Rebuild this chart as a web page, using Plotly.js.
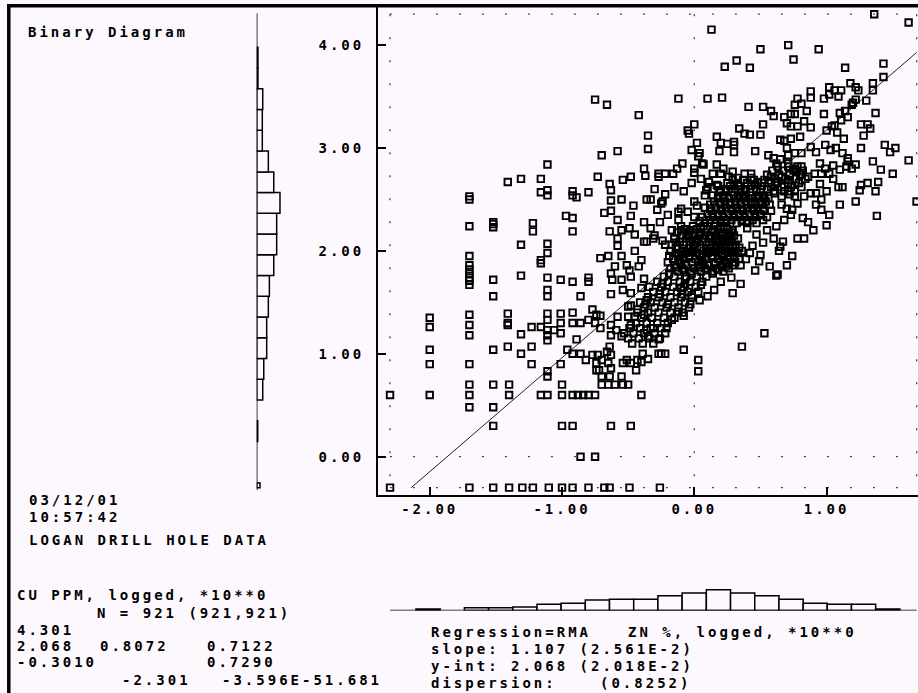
<!DOCTYPE html>
<html><head><meta charset="utf-8">
<script src="https://cdn.plot.ly/plotly-3.0.1.min.js"></script>
<style>
html,body{margin:0;padding:0;background:#fdf8fd;}
#chart{width:918px;height:693px;}
text{letter-spacing:3px;}
</style></head><body><div id="chart"></div>
<script>
// ---------- DATA ----------
// log10 ZN % (x) and log10 CU ppm (y) : scattered points
const outerPoints = [
[-0.75,3.47],[-0.66,3.42],[-0.42,3.32],[-0.35,3.12],[-0.35,2.99],[-0.70,2.93],[-0.58,2.97],[-1.11,2.84],[-0.38,2.80],[-0.37,2.73],
[-0.73,2.72],[-1.41,2.67],[-1.31,2.70],[-1.16,2.70],[-0.48,2.72],[-0.54,2.69],[-0.64,2.65],[-0.63,2.59],[-1.70,2.53],[-1.70,2.50],
[-1.16,2.57],[-1.11,2.59],[-1.11,2.54],[-0.92,2.58],[-0.92,2.54],[-0.89,2.52],[-0.80,2.57],[-0.63,2.49],[-0.55,2.50],[-0.46,2.44],
[-0.36,2.50],[-0.68,2.37],[-0.63,2.39],[-0.97,2.34],[-0.92,2.32],[-0.58,2.30],[-0.48,2.34],[-0.38,2.28],[-1.70,2.24],[-1.52,2.28],
[-1.52,2.26],[-1.52,2.23],[-1.22,2.27],[-1.22,2.19],[-0.92,2.19],[-0.64,2.19],[-0.55,2.20],[-0.49,2.22],[-0.45,2.16],[-0.58,2.12],
[-0.58,2.05],[-0.38,2.09],[-0.36,2.09],[-1.31,2.06],[-1.11,2.07],
[1.36,4.30],[1.62,4.22],[0.13,4.15],[0.71,4.00],[0.50,3.96],[0.94,3.96],[0.75,3.86],[0.32,3.85],[0.23,3.79],[0.42,3.78],
[1.14,3.78],[1.43,3.82],[1.43,3.69],[-0.12,3.48],[0.10,3.48],[0.21,3.49],[0.88,3.55],[0.88,3.49],[1.02,3.59],[1.06,3.56],
[1.11,3.56],[1.09,3.50],[0.98,3.48],[1.02,3.52],[1.18,3.63],[1.22,3.59],[1.24,3.56],[1.35,3.63],[1.35,3.56],[1.19,3.42],
[1.20,3.44],[1.22,3.47],[1.30,3.46],[0.78,3.48],[0.76,3.42],[0.81,3.43],[0.85,3.36],[0.41,3.40],[0.52,3.40],[0.58,3.36],
[0.60,3.31],[0.68,3.30],[0.73,3.33],[0.76,3.33],[0.98,3.33],[1.10,3.34],[1.14,3.36],[1.16,3.30],[1.11,3.27],[1.06,3.22],
[1.37,3.34],[0.00,3.23],[-0.05,3.17],[-0.04,3.14],[0.34,3.19],[0.38,3.14],[0.42,3.13],[0.50,3.13],[0.52,3.23],[0.70,3.24],
[0.73,3.21],[0.78,3.21],[0.83,3.26],[0.88,3.20],[1.00,3.17],[1.04,3.21],[1.08,3.15],[1.13,3.09],[1.26,3.23],[1.31,3.23],
[1.33,3.19],[1.28,3.12],[0.02,3.05],[0.17,3.11],[0.20,3.05],[0.25,3.04],[0.30,3.06],[0.30,3.03],[0.19,2.97],[0.30,2.96],
[0.46,2.97],[0.65,3.08],[0.68,3.07],[0.73,3.09],[0.80,3.11],[0.70,3.00],[0.76,2.95],[0.81,2.95],[0.88,3.01],[0.92,2.96],
[0.99,3.03],[1.03,2.98],[1.07,3.00],[1.12,2.95],[1.16,2.90],[1.16,2.87],[1.26,3.00],[1.44,3.03],[1.52,3.00],[1.48,2.96],
[1.62,2.88],[-0.02,2.98],[0.04,2.95],[0.03,2.92],[0.06,2.85],[0.56,2.93],[0.60,2.90],[0.62,2.85],[0.65,2.89],[0.71,2.93],
[0.71,2.85],[0.75,2.80],[0.81,2.82],[0.77,2.77],[0.95,2.85],[0.99,2.80],[1.05,2.83],[0.96,2.75],[1.02,2.75],[1.10,2.79],
[1.15,2.82],[1.19,2.80],[1.22,2.84],[1.35,2.87],[1.41,2.79],[1.50,2.75],[1.39,2.67],[-0.09,2.85],[-0.13,2.80],[-0.16,2.75],
[-0.22,2.75],[-0.27,2.75],[-0.27,2.72],[0.00,2.80],[0.00,2.76],[0.07,2.84],[0.17,2.84],[0.20,2.75],[0.26,2.72],[0.29,2.77],
[0.33,2.71],[0.38,2.75],[0.43,2.75],[0.43,2.71],[0.48,2.67],[0.53,2.66],[0.58,2.72],[0.62,2.67],[0.66,2.72],[0.71,2.69],
[0.76,2.79],[0.81,2.74],[0.86,2.72],[0.91,2.75],[1.26,2.64],[1.31,2.66],[1.25,2.59],[1.09,2.62],[1.37,2.58],[1.22,2.48],
[1.68,2.48],[1.38,2.34],[0.11,2.67],[0.09,2.59],[0.08,2.54],[0.17,2.64],[0.19,2.59],[0.00,2.48],[-0.10,2.41],[-0.12,2.38],
[-0.24,2.48],[-0.25,2.46],[-0.33,2.50],[-0.33,2.22],[-0.31,2.12],[-0.17,2.20],[-0.10,2.20],[-0.05,2.16],[-0.15,2.12],[-0.22,2.06],
[0.70,2.41],[0.73,2.35],[0.78,2.46],[0.82,2.32],[0.86,2.28],[0.90,2.20],[0.92,2.56],[0.96,2.50],[0.96,2.40],[1.02,2.35],
[1.00,2.25],[0.78,2.12],[0.83,2.12],[0.67,2.09],[0.65,2.04],[0.61,2.56],[0.66,2.53],[0.71,2.58],[0.76,2.53],[0.83,2.53],
[0.88,2.56],
[-1.70,1.95],[-1.70,1.86],[-1.70,1.82],[-1.70,1.78],[-1.70,1.74],[-1.70,1.71],[-1.70,1.67],[-1.16,1.91],[-1.16,1.88],[-1.11,1.98],
[-0.71,1.93],[-0.65,1.95],[-0.51,1.86],[-0.49,1.81],[-0.40,1.91],[-1.52,1.72],[-1.31,1.76],[-1.11,1.74],[-1.01,1.72],[-0.92,1.70],
[-0.80,1.74],[-0.80,1.70],[-0.63,1.78],[-0.62,1.72],[-0.55,1.72],[-0.63,1.58],[-0.54,1.62],[-0.48,1.59],[-0.40,1.64],[-0.38,1.73],
[-1.52,1.56],[-1.11,1.62],[-1.11,1.56],[-0.86,1.56],[-2.00,1.35],[-2.00,1.26],[-1.70,1.38],[-1.70,1.28],[-1.70,1.18],[-1.41,1.39],
[-1.41,1.30],[-1.41,1.28],[-1.31,1.19],[-1.23,1.26],[-1.16,1.26],[-1.11,1.39],[-1.11,1.33],[-1.11,1.23],[-1.11,1.18],[-1.11,1.13],
[-1.06,1.23],[-1.01,1.39],[-1.01,1.30],[-1.01,1.20],[-0.92,1.40],[-0.92,1.30],[-0.86,1.30],[-0.80,1.33],[-0.77,1.43],[-0.74,1.38],
[-0.71,1.37],[-0.75,1.30],[-0.71,1.25],[-0.89,1.14],[-0.63,1.28],[-0.58,1.36],[-0.63,1.18],[-0.59,1.23],[-0.50,1.46],[-0.48,1.47],
[-0.43,1.43],[-0.38,1.38],[-0.45,1.36],[-0.50,1.36],[-0.48,1.28],[-0.41,1.25],[-0.36,1.23],[-0.53,1.20],[-0.55,1.17],[-0.36,1.52],
[-1.52,1.04],[-1.41,1.07],[-1.31,1.00],[-1.23,1.07],[-2.00,1.04],[-2.00,0.90],[-1.70,0.90],[-1.23,0.90],[-1.01,0.90],[-1.11,0.83],
[-1.11,0.78],[-0.96,1.04],[-0.92,1.00],[-0.86,1.00],[-0.82,0.94],[-0.77,0.99],[-0.73,0.99],[-0.74,0.91],[-0.70,0.94],[-0.66,1.02],
[-0.64,1.07],[-0.63,0.99],[-0.65,0.91],[-0.63,0.86],[-0.72,0.84],[-0.74,0.84],[-0.70,0.78],[-0.64,0.78],[-0.55,0.78],[-0.54,0.91],
[-0.51,0.94],[-0.48,0.91],[-0.43,0.94],[-0.44,0.84],[-0.39,1.00],[-0.40,0.92],[-0.70,0.70],[-0.65,0.70],[-0.60,0.70],[-0.54,0.70],
[-0.50,0.70],[-2.30,0.60],[-2.00,0.60],[-1.70,0.70],[-1.70,0.60],[-1.70,0.48],[-1.52,0.70],[-1.52,0.48],[-1.52,0.30],[-1.40,0.70],
[-1.40,0.60],[-1.16,0.60],[-1.11,0.60],[-1.00,0.70],[-1.00,0.60],[-0.92,0.60],[-0.88,0.60],[-0.84,0.60],[-0.80,0.60],[-0.75,0.60],
[-0.40,0.60],[-1.00,0.30],[-0.92,0.30],[-0.63,0.30],[-0.48,0.30],[-0.86,0.00],[-0.75,0.00],
[-2.30,-0.301],[-1.70,-0.301],[-1.52,-0.301],[-1.40,-0.301],[-1.30,-0.301],[-1.22,-0.301],[-1.10,-0.301],[-1.00,-0.301],
[-0.92,-0.301],[-0.80,-0.301],[-0.68,-0.301],[-0.64,-0.301],[-0.49,-0.301],[-0.26,-0.301],
[0.29,1.59],[0.53,1.20],[0.36,1.07],[0.03,0.94],[0.03,0.83],[-0.08,1.04],[-0.27,1.00],[-0.25,1.00],[-0.22,1.00],[-0.35,0.95],
[-0.31,1.25],[-0.27,1.14],[-0.21,1.25],[-0.17,1.33],[-0.08,1.37],[-0.12,1.41],[-0.35,1.17],[0.62,1.76],[0.63,1.77],[0.64,2.00],
[0.70,1.86],[0.74,1.95],[0.57,1.85],[0.46,1.81],[0.49,1.90],[0.39,1.92],[0.24,1.85],[0.14,1.78],[0.04,1.52],[0.10,1.56],
[0.05,1.67],[-0.02,1.57],[-0.07,1.73],[-0.10,1.64],
[0.40,2.22],[0.47,2.16],[0.55,2.20],[0.62,2.24],[0.52,2.08],[0.44,2.05],[0.60,2.12],[0.68,2.30],[0.74,2.40],[0.66,2.45],
[0.72,2.55],[0.42,1.98],[0.50,1.96],[-0.30,2.60],[-0.22,2.55],[-0.15,2.62],[-0.08,2.58],[-0.02,2.66],[0.05,2.70],[-0.28,2.40],
[-0.20,2.35],[-0.12,2.30],[-0.05,2.38],[0.02,2.44],[0.00,2.33],[-0.26,2.28],[-0.30,2.15],[-0.24,2.10],[0.10,2.62],[0.14,2.75],
[0.22,2.80],[-0.45,2.00],[-0.42,1.85],[-0.48,1.75],[-0.55,1.95],[-0.60,1.85],[0.20,1.70],[0.28,1.74],[0.15,1.62],[0.35,1.68],
[0.95,2.65],[1.00,2.58],[1.05,2.70],[1.12,2.62],[0.92,2.45],[1.10,2.45]
];
// dense core of the cloud, by rows: [log CU, [log ZN values]]
const coreRows = [
[1.10,[-0.47,-0.39,-0.31]],[1.15,[-0.50,-0.42,-0.34,-0.26]],[1.20,[-0.46,-0.38,-0.30,-0.22]],
[1.25,[-0.49,-0.41,-0.33,-0.25]],[1.30,[-0.44,-0.36,-0.28,-0.20]],[1.35,[-0.40,-0.32,-0.23,-0.15]],
[1.40,[-0.43,-0.35,-0.27,-0.18,-0.09]],[1.45,[-0.38,-0.30,-0.21,-0.12,-0.04]],[1.50,[-0.41,-0.33,-0.24,-0.15,-0.07]],
[1.55,[-0.35,-0.27,-0.18,-0.10,-0.02]],[1.60,[-0.31,-0.22,-0.13,-0.05,0.03]],[1.65,[-0.34,-0.25,-0.16,-0.08,0.01]],
[1.70,[-0.28,-0.20,-0.11,-0.03,0.06]],[1.75,[-0.23,-0.15,-0.06,0.02,0.09]],
[1.80,[-0.12,-0.03,0.05,0.14,0.22]],[1.83,[-0.18,-0.09,0.00,0.08,0.17,0.26]],[1.86,[-0.15,-0.06,0.03,0.11,0.20,0.29,0.35]],
[1.89,[-0.20,-0.11,-0.02,0.06,0.15,0.24,0.31]],[1.92,[-0.16,-0.08,0.01,0.09,0.18,0.27,0.34]],[1.95,[-0.19,-0.12,-0.04,0.04,0.13,0.21,0.30]],
[1.98,[-0.14,-0.06,0.02,0.10,0.18,0.25,0.33]],[2.00,[-0.18,-0.09,-0.01,0.07,0.15,0.23,0.29,0.36]],[2.03,[-0.13,-0.04,0.05,0.12,0.20,0.27,0.34]],
[2.06,[-0.17,-0.08,0.00,0.09,0.17,0.24,0.31]],[2.09,[-0.11,-0.03,0.06,0.14,0.21,0.28]],[2.12,[-0.15,-0.06,0.03,0.11,0.19,0.26,0.33]],
[2.15,[-0.09,0.00,0.08,0.16,0.23,0.30]],[2.18,[-0.13,-0.04,0.05,0.13,0.21,0.28]],[2.21,[-0.07,0.02,0.10,0.18,0.25]],
[2.24,[-0.10,-0.01,0.07,0.15,0.22]],
[2.27,[0.08,0.16,0.24,0.32,0.40,0.47]],[2.30,[0.12,0.20,0.28,0.36,0.44,0.52]],[2.33,[0.06,0.14,0.22,0.30,0.38,0.46,0.55]],
[2.36,[0.10,0.18,0.26,0.34,0.42,0.50]],[2.39,[0.13,0.21,0.29,0.37,0.45,0.53,0.58]],[2.42,[0.08,0.16,0.24,0.32,0.40,0.48]],
[2.45,[0.12,0.20,0.27,0.35,0.43,0.51,0.57]],[2.48,[0.15,0.23,0.31,0.39,0.46,0.54]],[2.51,[0.18,0.26,0.33,0.41,0.49,0.56]],
[2.54,[0.14,0.22,0.30,0.37,0.44,0.52]],[2.57,[0.20,0.28,0.35,0.42,0.50]],[2.60,[0.24,0.31,0.39,0.47,0.55]],
[2.63,[0.18,0.27,0.34,0.43,0.51]],[2.66,[0.25,0.33,0.40,0.48]],[2.69,[0.29,0.37,0.45,0.53]],
[2.58,[0.60,0.68,0.76]],[2.62,[0.58,0.66,0.73,0.81]],[2.66,[0.56,0.63,0.71,0.79]],[2.70,[0.61,0.69,0.77,0.84]],
[2.74,[0.55,0.64,0.72,0.80]],[2.78,[0.59,0.67,0.75,0.82]],[2.82,[0.63,0.71,0.78]],
[1.84,[-0.14,0.04,0.21]],[1.91,[-0.12,0.05,0.22]],[1.97,[-0.10,0.06,0.21]],[2.02,[-0.08,0.09,0.24]],
[2.08,[-0.14,0.02,0.18]],[2.14,[-0.04,0.12,0.27]],[2.20,[-0.03,0.14,0.29]],[2.29,[0.04,0.24,0.40]],
[2.35,[0.14,0.30,0.46]],[2.41,[0.12,0.28,0.44]],[2.47,[0.19,0.35,0.50]],[2.53,[0.18,0.34,0.48]],
[1.48,[-0.37,-0.20,-0.03]],[1.58,[-0.26,-0.09]],[1.68,[-0.24,-0.07]],[1.78,[-0.19,-0.02]],
[1.815,[-0.08,0.10,0.18]],[1.875,[-0.10,0.07,0.25]],[1.935,[-0.04,0.14,0.30]],[1.99,[-0.02,0.14,0.29]],
[2.045,[-0.01,0.16,0.31]],[2.105,[0.02,0.17,0.25]],[2.165,[0.04,0.20,0.26]],[2.225,[0.05,0.20]],
[2.285,[0.20,0.36]],[2.345,[0.18,0.34,0.50]],[2.405,[0.20,0.36,0.52]],[2.465,[0.27,0.43]],
[2.525,[0.22,0.38,0.53]],[2.585,[0.24,0.38]],[2.645,[0.30,0.46]]
];
// left histogram (log CU) : bin edges and counts
const cuHistEdges = [-0.301,-0.255,-0.054,0.148,0.349,0.551,0.753,0.954,1.156,1.357,1.559,1.760,1.962,2.164,2.365,2.567,2.768,2.970,3.172,3.373,3.575,3.777,3.978];
const cuHistCounts = [16,0,0,5,0,29,34,48,48,56,61,82,96,96,112,82,56,27,27,29,6,6];
// bottom histogram (log ZN) : bin edges and counts
const znHistEdges = [-2.104,-1.921,-1.738,-1.555,-1.372,-1.189,-1.007,-0.824,-0.641,-0.458,-0.275,-0.092,0.091,0.274,0.457,0.640,0.823,1.005,1.188,1.371,1.554];
const znHistCounts = [8,0,14,14,18,33,38,56,60,60,78,92,109,92,78,60,38,33,33,8];
// data limits and regression
const znLimits = [-2.301, 1.681];
const cuLimits = [-0.301, 4.301];
const rmaSlope = 1.107, rmaIntercept = 2.068;
// ticks
const xTickVals = [-2,-1,0,1], xTickText = ['-2.00','-1.00','0.00','1.00'];
const yTickVals = [0,1,2,3,4], yTickText = ['0.00','1.00','2.00','3.00','4.00'];
// texts
const headerText = 'Binary Diagram';
const infoLines = ['03/12/01','10:57:42','LOGAN DRILL HOLE DATA'];
const cuLabel = 'CU PPM, logged, *10**0';
const nLabel = 'N = 921 (921,921)';
const statsCells = ['4.301','2.068','0.8072','0.7122','-0.3010','0.7290','-2.301','-3.596E-51.681'];
const regLines = ['Regression=RMA','ZN %, logged, *10**0','slope: 1.107 (2.561E-2)','y-int: 2.068 (2.018E-2)','dispersion:','(0.8252)'];

// ---------- BUILD ----------
const W = 918, H = 693;
const BG = '#fdf8fd';
const FONT = {family:'DejaVu Sans Mono, Liberation Mono, monospace', size:14, color:'#000', weight:'bold'};
const fx = p => p / W, fy = p => 1 - p / H;

const X = [], Y = [];
outerPoints.forEach(p => { X.push(p[0]); Y.push(p[1]); });
coreRows.forEach(r => r[1].forEach(x => { X.push(x); Y.push(r[0]); }));

function histBars(edges, counts) {
  const c = [], w = [], v = [];
  counts.forEach((n, i) => { if (n > 0) { c.push((edges[i] + edges[i+1]) / 2); w.push(edges[i+1] - edges[i]); v.push(n); } });
  return {c, w, v};
}
const lh = histBars(cuHistEdges, cuHistCounts);
const bh = histBars(znHistEdges, znHistCounts);

const lineX0 = (cuLimits[0] - rmaIntercept) / rmaSlope;
const traces = [
  {type:'bar', orientation:'h', xaxis:'x2', yaxis:'y', y: lh.c, x: lh.v, width: lh.w, base:0,
   marker:{color:BG, line:{color:'#000', width:1.5}}, hoverinfo:'skip'},
  {type:'bar', xaxis:'x', yaxis:'y3', x: bh.c, y: bh.v, width: bh.w, base:0,
   marker:{color:BG, line:{color:'#000', width:1.5}}, hoverinfo:'skip'},
  {type:'scatter', mode:'lines', x:[lineX0, znLimits[1]],
   y:[rmaIntercept + rmaSlope*lineX0, rmaIntercept + rmaSlope*znLimits[1]],
   line:{color:'#222', width:1}, hoverinfo:'skip'},
  {type:'scatter', mode:'markers', x:X, y:Y,
   marker:{symbol:'square-open', size:6.5, color:'#000', line:{width:1.9, color:'#000'}}, hoverinfo:'skip'}
];

const dotted = {color:'#444', width:1.3, dash:'2px,21px'};
const shapes = [
  {type:'line', xref:'x', yref:'y', x0:znLimits[0], x1:znLimits[1], y0:cuLimits[1], y1:cuLimits[1], line:dotted, layer:'below'},
  {type:'line', xref:'x', yref:'y', x0:znLimits[0], x1:znLimits[1], y0:cuLimits[0], y1:cuLimits[0], line:dotted, layer:'below'},
  {type:'line', xref:'x', yref:'y', x0:znLimits[0], x1:znLimits[1], y0:0, y1:0, line:dotted, layer:'below'},
  {type:'line', xref:'x', yref:'y', x0:znLimits[0], x1:znLimits[0], y0:cuLimits[1], y1:cuLimits[0], line:dotted, layer:'below'},
  {type:'line', xref:'x', yref:'y', x0:znLimits[1], x1:znLimits[1], y0:cuLimits[1], y1:cuLimits[0], line:dotted, layer:'below'},
  {type:'line', xref:'x', yref:'y', x0:0, x1:0, y0:cuLimits[1], y1:cuLimits[0], line:dotted, layer:'below'},
  {type:'line', xref:'x2', yref:'y', x0:0, x1:0, y0:cuLimits[0]-0.023, y1:cuLimits[1]+0.008, line:{color:'#000', width:1.5}},
  {type:'line', xref:'x', yref:'y3', x0:znLimits[0], x1:znLimits[1], y0:0, y1:0, line:{color:'#000', width:1.5}},
  {type:'line', xref:'paper', yref:'paper', x0:fx(7), x1:1, y0:fy(5.8), y1:fy(5.8), line:{color:'#000', width:3.5}},
  {type:'line', xref:'paper', yref:'paper', x0:fx(8.8), x1:fx(8.8), y0:fy(4), y1:0, line:{color:'#000', width:3.5}}
];

function ann(text, x, y) {
  return {text:text, x:fx(x), y:fy(y), xref:'paper', yref:'paper', xanchor:'left', yanchor:'middle',
          showarrow:false, font:FONT, borderpad:0};
}
const annotations = [
  ann(headerText, 27, 32),
  ann(infoLines[0], 28, 500), ann(infoLines[1], 28, 517), ann(infoLines[2], 28, 540),
  ann(cuLabel, 16, 595), ann(nLabel, 96, 613),
  ann(statsCells[0], 16, 630),
  ann(statsCells[1], 16, 646), ann(statsCells[2], 99, 646), ann(statsCells[3], 206, 646),
  ann(statsCells[4], 16, 662), ann(statsCells[5], 206, 662),
  ann(statsCells[6], 121, 680), ann(statsCells[7], 221, 680),
  ann(regLines[0], 430, 632), ann(regLines[1], 627, 632),
  ann(regLines[2], 430, 649), ann(regLines[3], 430, 666),
  ann(regLines[4], 430, 683), ann(regLines[5], 599, 683)
];

const layout = {
  width:W, height:H, margin:{l:0, r:0, t:0, b:0},
  paper_bgcolor:BG, plot_bgcolor:BG, showlegend:false, bargap:0,
  xaxis:{domain:[fx(378), 1], range:[-2.391, 1.691], anchor:'y',
         showline:true, linecolor:'#000', linewidth:2, ticks:'inside', ticklen:8, tickwidth:2, tickcolor:'#000',
         tickvals:xTickVals, ticktext:xTickText, tickfont:FONT, showgrid:false, zeroline:false, ticklabelstandoff:0},
  yaxis:{domain:[fy(495), fy(7)], range:[-0.3722, 4.3703], anchor:'x',
         showline:true, linecolor:'#000', linewidth:2, ticks:'inside', ticklen:8, tickwidth:2, tickcolor:'#000',
         tickvals:yTickVals, ticktext:yTickText, tickfont:FONT, showgrid:false, zeroline:false, ticklabelstandoff:9},
  xaxis2:{domain:[fx(256.7), fx(296.7)], range:[0, 192.4], anchor:'free', position:0, visible:false, showgrid:false, zeroline:false},
  yaxis3:{domain:[fy(610.5), fy(572.6)], range:[0, 200], anchor:'x', visible:false, showgrid:false, zeroline:false},
  shapes:shapes, annotations:annotations
};

Plotly.newPlot('chart', traces, layout, {staticPlot:true, displayModeBar:false});
</script></body></html>
